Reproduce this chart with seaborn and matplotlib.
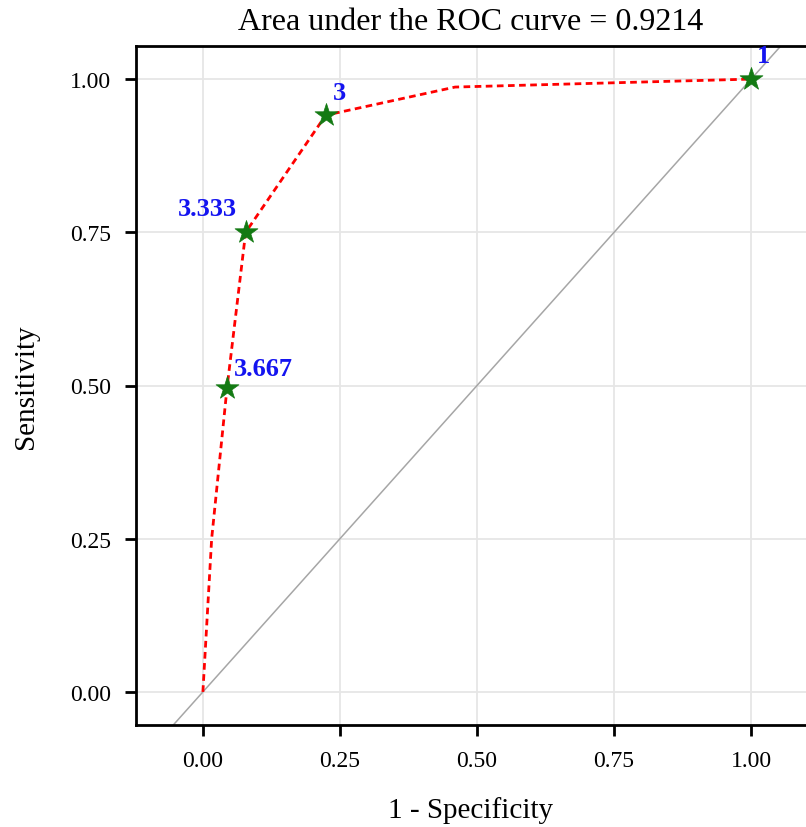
import matplotlib
matplotlib.use("Agg")
import matplotlib.pyplot as plt
import seaborn as sns
import pandas as pd

# --- DATA ---
fpr = [0.0, 0.016, 0.044, 0.078, 0.224, 0.46, 1.0]
tpr = [0.0, 0.25, 0.496, 0.750, 0.941, 0.987, 1.0]

cut_fpr = [0.044, 0.078, 0.224, 1.0]
cut_tpr = [0.496, 0.750, 0.941, 1.0]
cut_labels = ["3.667", "3.333", "3", "1"]

ticks = [0.0, 0.25, 0.5, 0.75, 1.0]
tick_labels = ["0.00", "0.25", "0.50", "0.75", "1.00"]
auc = 0.9214

# --- PLOT ---
sns.set_style("white")
plt.rcParams['font.family'] = ['Liberation Serif', 'DejaVu Serif']
plt.rcParams['text.color'] = 'black'
plt.rcParams['axes.labelcolor'] = 'black'
plt.rcParams['xtick.color'] = 'black'
plt.rcParams['ytick.color'] = 'black'

fig = plt.figure(figsize=(8.06, 8.28), dpi=100)
ax = fig.add_axes([136 / 806, 102 / 828, (806 - 136) / 806, (726 - 47) / 828])

ax.set_xlim(-0.122, 1.100)
ax.set_ylim(-0.054, 1.054)

ax.set_xticks(ticks)
ax.set_yticks(ticks)
ax.set_xticklabels(tick_labels)
ax.set_yticklabels(tick_labels)
ax.grid(True, color="#e6e6e6", linewidth=1.3)
ax.set_axisbelow(True)

# reference line
ax.axline((0, 0), (1, 1), color="#a6a6a6", linewidth=1.1, zorder=1)

roc = pd.DataFrame({"fpr": fpr, "tpr": tpr})
sns.lineplot(data=roc, x="fpr", y="tpr", sort=False, ax=ax, color="red",
             linewidth=2, linestyle=(0, (2.4, 1.6)), zorder=2)

cuts = pd.DataFrame({"fpr": cut_fpr, "tpr": cut_tpr, "label": cut_labels})
sns.scatterplot(data=cuts, x="fpr", y="tpr", ax=ax, marker="*", s=300,
                color="#137a13", edgecolor="#137a13", linewidth=0.5, zorder=3)

offsets = {"3.667": (5, 6, "left"), "3.333": (-6, 9, "right"),
           "3": (5, 8, "left"), "1": (4, 9, "left")}
for _, r in cuts.iterrows():
    dx, dy, ha = offsets[r["label"]]
    ax.annotate(r["label"], (r["fpr"], r["tpr"]), xytext=(dx, dy),
                textcoords="offset points", ha=ha, va="bottom",
                color="#1414f0", fontsize=19, fontweight="bold")

for side in ["left", "bottom", "top"]:
    ax.spines[side].set_color("black")
    ax.spines[side].set_linewidth(2)
ax.spines["right"].set_visible(False)

ax.tick_params(axis="both", direction="out", length=8, width=2, color="black",
               labelcolor="black", labelsize=17, pad=10, bottom=True, left=True)

ax.set_xlabel("1 - Specificity", fontsize=21, labelpad=18)
ax.set_ylabel("Sensitivity", fontsize=21, labelpad=22)
ax.set_title(f"Area under the ROC curve = {auc}", fontsize=23, pad=12)

fig.savefig("out.png", dpi=100)
plt.close()
